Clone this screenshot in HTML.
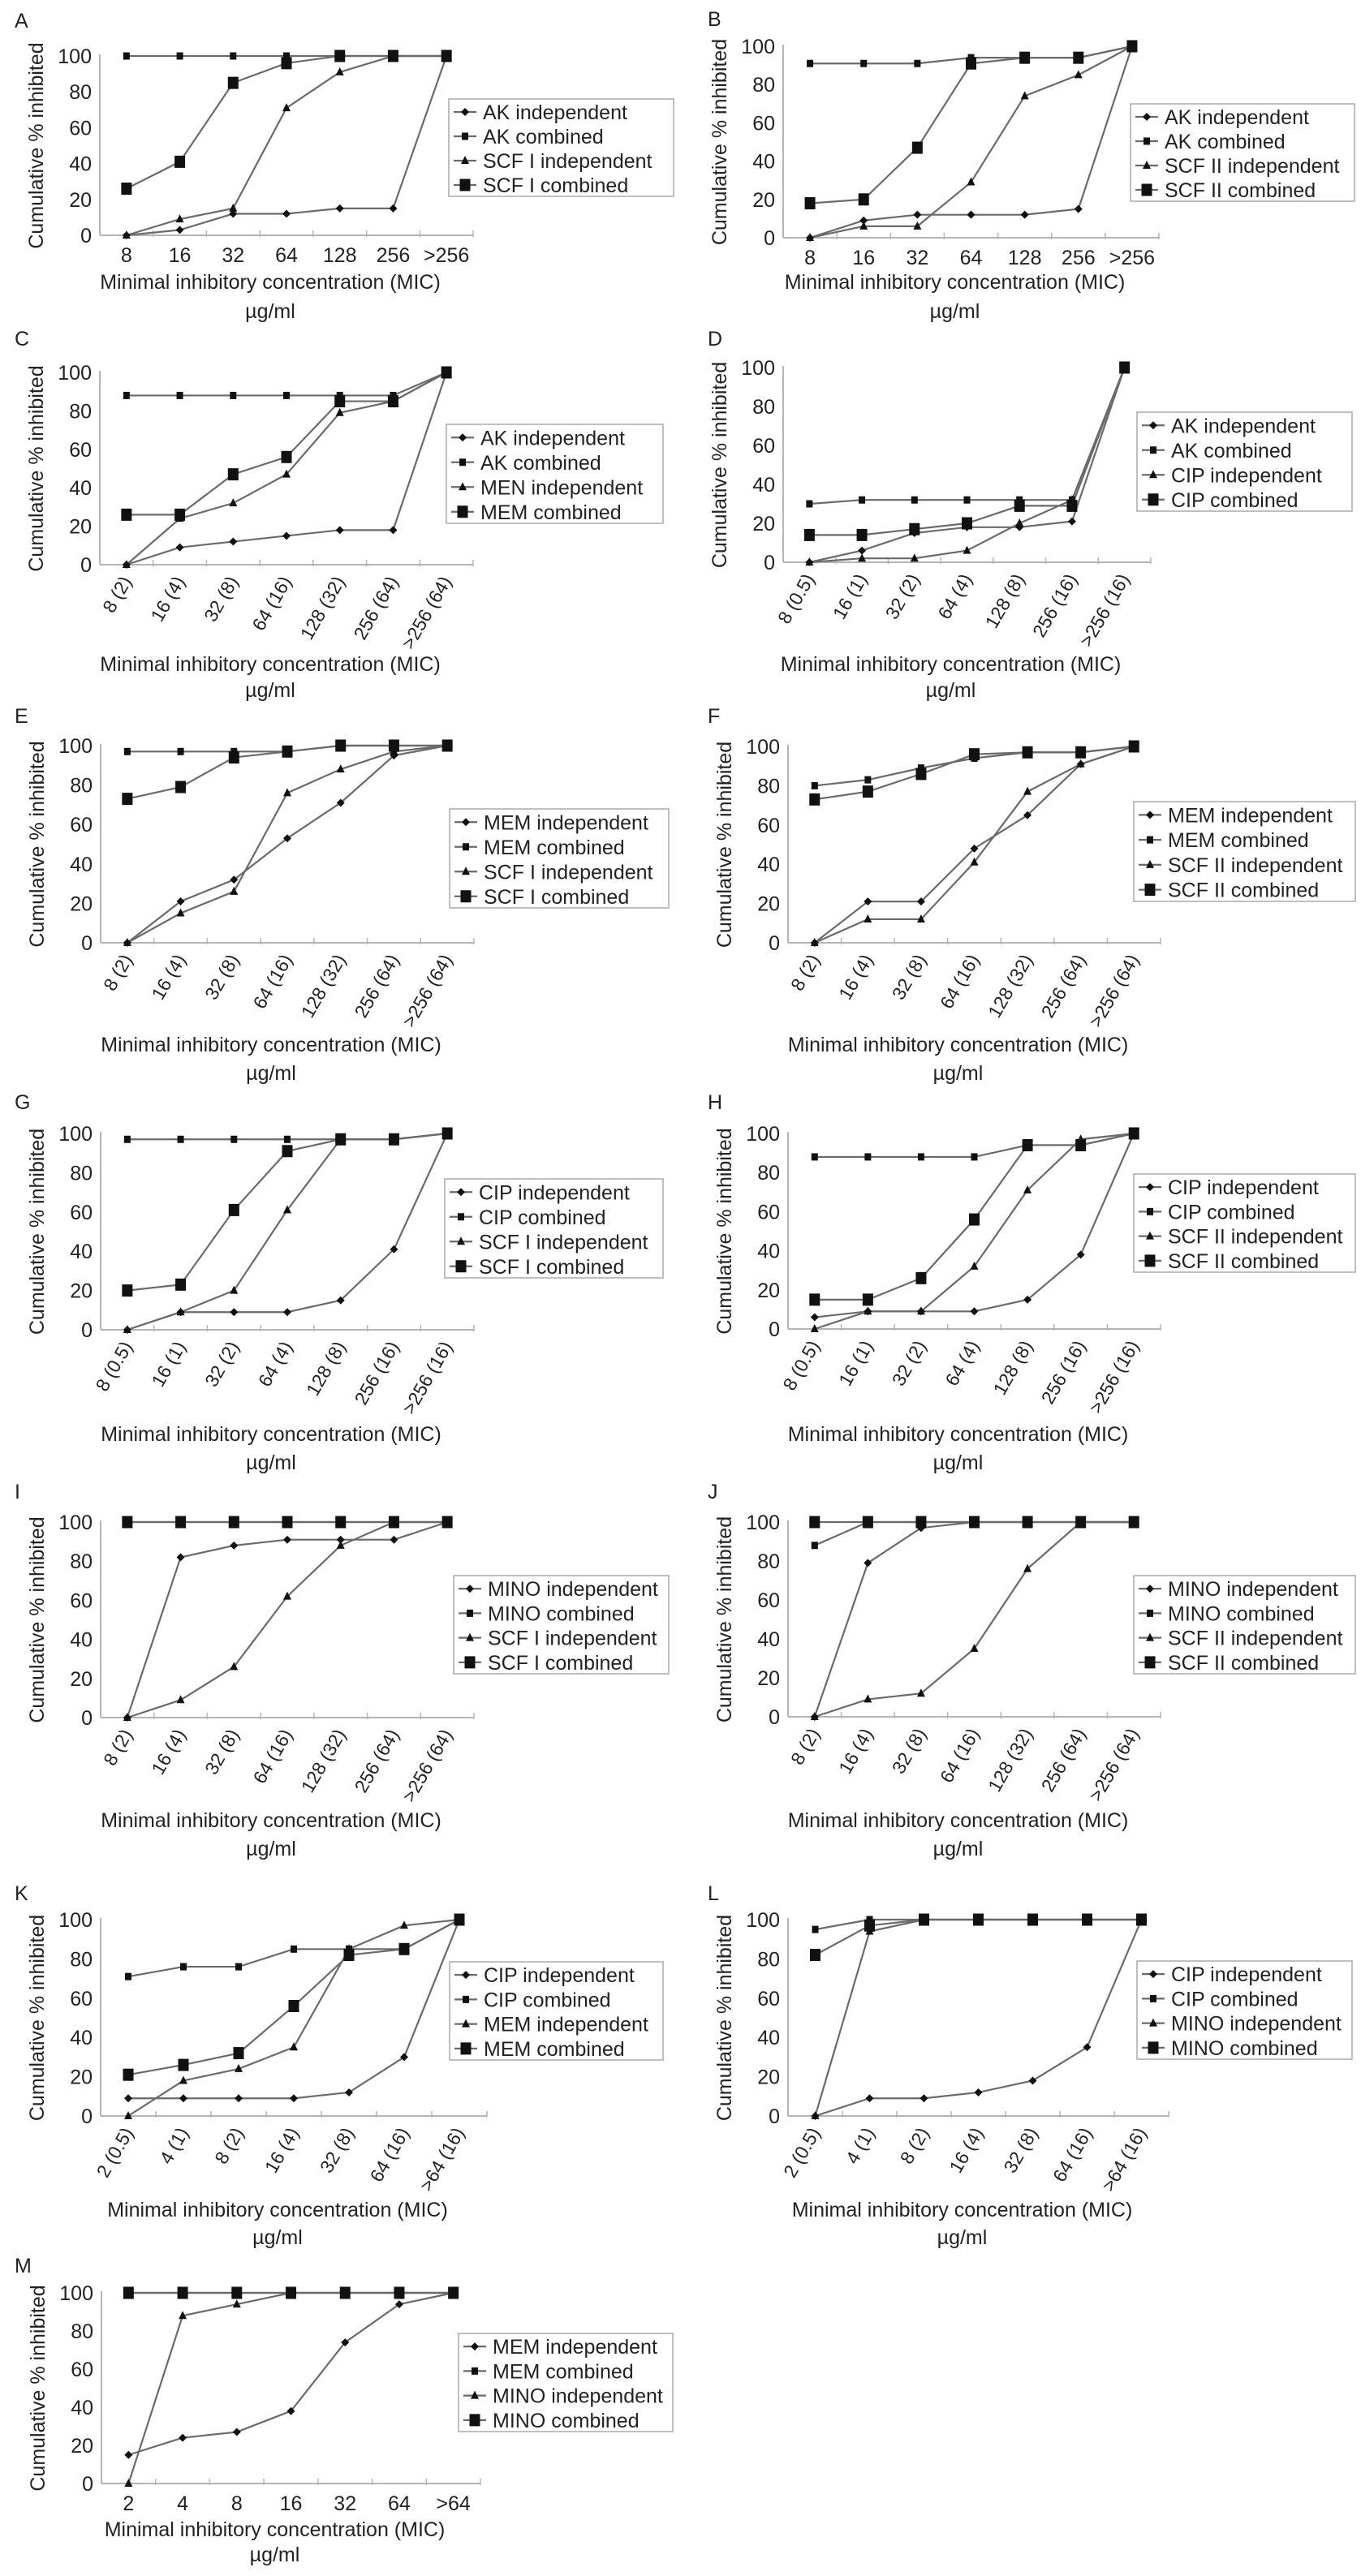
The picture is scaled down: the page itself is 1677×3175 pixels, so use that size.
<!DOCTYPE html>
<html><head><meta charset="utf-8">
<style>
html,body{margin:0;padding:0;background:#fff;}
svg{display:block;font-family:"Liberation Sans",Arial,sans-serif;}
</style></head>
<body>
<svg id="fig" xmlns="http://www.w3.org/2000/svg" width="1677" height="3175" viewBox="0 0 1677 3175"></svg>
<script>
// ---- data ----
const cat1 = ['8','16','32','64','128','256','>256'];
const cat2 = ['8 (2)','16 (4)','32 (8)','64 (16)','128 (32)','256 (64)','>256 (64)'];
const cat3 = ['8 (0.5)','16 (1)','32 (2)','64 (4)','128 (8)','256 (16)','>256 (16)'];
const cat4 = ['2 (0.5)','4 (1)','8 (2)','16 (4)','32 (8)','64 (16)','>64 (16)'];
const cat5 = ['2','4','8','16','32','64','>64'];
const yTicks = [0,20,40,60,80,100];

const legA = ['AK independent','AK combined','SCF I independent','SCF I combined'];
const A1 = [0,3,12,12,15,15,100];
const A2 = [100,100,100,100,100,100,100];
const A3 = [0,9,15,71,91,100,100];
const A4 = [26,41,85,96,100,100,100];

const legB = ['AK independent','AK combined','SCF II independent','SCF II combined'];
const B1 = [0,9,12,12,12,15,100];
const B2 = [91,91,91,94,94,94,100];
const B3 = [0,6,6,29,74,85,100];
const B4 = [18,20,47,91,94,94,100];

const legC = ['AK independent','AK combined','MEN independent','MEM combined'];
const C1 = [0,9,12,15,18,18,100];
const C2 = [88,88,88,88,88,88,100];
const C3 = [0,24,32,47,79,85,100];
const C4 = [26,26,47,56,85,85,100];

const legD = ['AK independent','AK combined','CIP independent','CIP combined'];
const D1 = [0,6,15,18,18,21,100];
const D2 = [30,32,32,32,32,32,100];
const D3 = [0,2,2,6,20,32,100];
const D4 = [14,14,17,20,29,29,100];

const legE = ['MEM independent','MEM combined','SCF I independent','SCF I combined'];
const E1 = [0,21,32,53,71,95,100];
const E2 = [97,97,97,97,100,100,100];
const E3 = [0,15,26,76,88,97,100];
const E4 = [73,79,94,97,100,100,100];

const legF = ['MEM independent','MEM combined','SCF II independent','SCF II combined'];
const F1 = [0,21,21,48,65,91,100];
const F2 = [80,83,89,94,97,97,100];
const F3 = [0,12,12,41,77,91,100];
const F4 = [73,77,86,96,97,97,100];

const legG = ['CIP independent','CIP combined','SCF I independent','SCF I combined'];
const G1 = [0,9,9,9,15,41,100];
const G2 = [97,97,97,97,97,97,100];
const G3 = [0,9,20,61,97,97,100];
const G4 = [20,23,61,91,97,97,100];

const legH = ['CIP independent','CIP combined','SCF II independent','SCF II combined'];
const H1 = [6,9,9,9,15,38,100];
const H2 = [88,88,88,88,94,94,100];
const H3 = [0,9,9,32,71,97,100];
const H4 = [15,15,26,56,94,94,100];

const legI = ['MINO independent','MINO combined','SCF I independent','SCF I combined'];
const I1 = [0,82,88,91,91,91,100];
const I2 = [100,100,100,100,100,100,100];
const I3 = [0,9,26,62,88,100,100];
const I4 = [100,100,100,100,100,100,100];

const legJ = ['MINO independent','MINO combined','SCF II independent','SCF II combined'];
const J1 = [0,79,97,100,100,100,100];
const J2 = [88,100,100,100,100,100,100];
const J3 = [0,9,12,35,76,100,100];
const J4 = [100,100,100,100,100,100,100];

const legK = ['CIP independent','CIP combined','MEM independent','MEM combined'];
const K1 = [9,9,9,9,12,30,100];
const K2 = [71,76,76,85,85,85,100];
const K3 = [0,18,24,35,85,97,100];
const K4 = [21,26,32,56,82,85,100];

const legL = ['CIP independent','CIP combined','MINO independent','MINO combined'];
const L1 = [0,9,9,12,18,35,100];
const L2 = [95,100,100,100,100,100,100];
const L3 = [0,94,100,100,100,100,100];
const L4 = [82,97,100,100,100,100,100];

const legM = ['MEM independent','MEM combined','MINO independent','MINO combined'];
const M1 = [15,24,27,38,74,94,100];
const M2 = [100,100,100,100,100,100,100];
const M3 = [0,88,94,100,100,100,100];
const M4 = [100,100,100,100,100,100,100];

// ---- layout (not data) ----
const panels = [
 {id:'A',cats:cat1,leg:legA,s:[A1,A2,A3,A4],x0:123,x1:583,yt:69,yb:290,rot:false,mic:347,ug:383,lg:[553,122,830,242],ly:25,lx:18},
 {id:'B',cats:cat1,leg:legB,s:[B1,B2,B3,B4],x0:965,x1:1428,yt:57,yb:293,rot:false,mic:347,ug:383,lg:[1393,128,1669,248],ly:23,lx:872},
 {id:'C',cats:cat2,leg:legC,s:[C1,C2,C3,C4],x0:123,x1:583,yt:459,yb:696,rot:true,mic:818,ug:850,lg:[550,523,817,645],ly:417,lx:18},
 {id:'D',cats:cat3,leg:legD,s:[D1,D2,D3,D4],x0:965,x1:1418,yt:453,yb:693,rot:true,mic:818,ug:850,lg:[1401,508,1666,630],ly:417,lx:872},
 {id:'E',cats:cat2,leg:legE,s:[E1,E2,E3,E4],x0:124,x1:584,yt:919,yb:1162,rot:true,mic:1287,ug:1322,lg:[554,997,824,1119],ly:882,lx:18},
 {id:'F',cats:cat2,leg:legF,s:[F1,F2,F3,F4],x0:971,x1:1430,yt:920,yb:1162,rot:true,mic:1287,ug:1322,lg:[1397,988,1670,1111],ly:882,lx:872},
 {id:'G',cats:cat3,leg:legG,s:[G1,G2,G3,G4],x0:124,x1:584,yt:1397,yb:1639,rot:true,mic:1767,ug:1802,lg:[548,1453,817,1575],ly:1358,lx:18},
 {id:'H',cats:cat3,leg:legH,s:[H1,H2,H3,H4],x0:971,x1:1430,yt:1397,yb:1638,rot:true,mic:1767,ug:1802,lg:[1397,1447,1670,1568],ly:1358,lx:872},
 {id:'I',cats:cat2,leg:legI,s:[I1,I2,I3,I4],x0:124,x1:584,yt:1876,yb:2117,rot:true,mic:2243,ug:2278,lg:[559,1942,824,2063],ly:1838,lx:18},
 {id:'J',cats:cat2,leg:legJ,s:[J1,J2,J3,J4],x0:971,x1:1430,yt:1876,yb:2116,rot:true,mic:2243,ug:2278,lg:[1397,1942,1670,2063],ly:1838,lx:872},
 {id:'K',cats:cat4,leg:legK,s:[K1,K2,K3,K4],x0:124,x1:600,yt:2366,yb:2608,rot:true,mic:2723,ug:2757,lg:[554,2418,817,2539],ly:2333,lx:18},
 {id:'L',cats:cat4,leg:legL,s:[L1,L2,L3,L4],x0:971,x1:1440,yt:2366,yb:2608,rot:true,mic:2723,ug:2757,lg:[1401,2417,1666,2538],ly:2333,lx:872},
 {id:'M',cats:cat5,leg:legM,s:[M1,M2,M3,M4],x0:125,x1:592,yt:2826,yb:3061,rot:false,mic:3117,ug:3148,lg:[565,2876,829,2997],ly:2792,lx:18}
];

const NS='http://www.w3.org/2000/svg';
const svg=document.getElementById('fig');
function mk(tag,attrs,parent){const e=document.createElementNS(NS,tag);for(const k in attrs)e.setAttribute(k,attrs[k]);(parent||svg).appendChild(e);return e;}

function marker(g,type,x,y){
  let e;
  if(type===0){const r=5;e=mk('polygon',{points:`${x},${y-r} ${x+r},${y} ${x},${y+r} ${x-r},${y}`,fill:'#111'},g);}
  else if(type===1){e=mk('rect',{x:x-4,y:y-4.5,width:8,height:9,fill:'#111'},g);}
  else if(type===2){e=mk('polygon',{points:`${x},${y-6} ${x+5},${y+4} ${x-5},${y+4}`,fill:'#111'},g);}
  else {e=mk('rect',{x:x-6.5,y:y-7.5,width:13,height:15,fill:'#111'},g);}
  return e;
}

panels.forEach(p=>{
  const g=mk('g',{});
  
  
  const n=p.cats.length;
  const w=(p.x1-p.x0)/n;
  const xs=i=>p.x0+(i+0.5)*w;
  const ys=v=>p.yb-(v/100)*(p.yb-p.yt);

  const lab=mk('text',{x:p.lx,y:p.ly+9,'font-size':25,fill:'#222'},g);
  lab.textContent=p.id;
  
  

  const ya=mk('line',{x1:p.x0,y1:p.yt-2,x2:p.x0,y2:p.yb,stroke:'#b5b5b5','stroke-width':2},g);
  
  
  const xa=mk('line',{x1:p.x0,y1:p.yb,x2:p.x1,y2:p.yb,stroke:'#b5b5b5','stroke-width':2},g);
  
  
  for(let i=1;i<=n;i++){
    const tx=p.x0+i*w;
    const tk=mk('line',{x1:tx,y1:p.yb-6,x2:tx,y2:p.yb+2,stroke:'#b5b5b5','stroke-width':1.5},g);
    
    
  }
  yTicks.forEach(v=>{
    const t=mk('text',{x:p.x0-10,y:ys(v)+9,'font-size':25,'text-anchor':'end',fill:'#222'},g);
    t.textContent=v;
    
    
  });
  p.cats.forEach((c,i)=>{
    let t;
    if(p.rot){
      const cx=xs(i)+7, cy=p.yb+20;
      t=mk('text',{x:cx,y:cy,'font-size':23,'text-anchor':'end',fill:'#222',transform:`rotate(-60 ${cx} ${cy})`},g);
    } else {
      t=mk('text',{x:xs(i),y:p.yb+33,'font-size':25,'text-anchor':'middle',fill:'#222'},g);
    }
    t.textContent=c;
    
    
  });
  const yc=(p.yt+p.yb)/2, ytx=p.x0-70;
  const yt=mk('text',{x:ytx,y:yc,'font-size':25,'text-anchor':'middle',fill:'#222',transform:`rotate(-90 ${ytx} ${yc})`},g);
  yt.textContent='Cumulative % inhibited';
  
  
  const mx=(p.x0+p.x1)/2-20;
  const mt=mk('text',{x:mx,y:p.mic+9,'font-size':25,'text-anchor':'middle',fill:'#222'},g);
  mt.textContent='Minimal inhibitory concentration (MIC)';
  
  
  const ut=mk('text',{x:mx,y:p.ug+9,'font-size':25,'text-anchor':'middle',fill:'#222'},g);
  ut.textContent='µg/ml';
  
  

  p.s.forEach((vals,si)=>{
    const pts=vals.map((v,i)=>xs(i)+','+ys(v)).join(' ');
    const pl=mk('polyline',{points:pts,fill:'none',stroke:'#6a6a6a','stroke-width':2.2},g);
    
    
  });
  p.s.forEach((vals,si)=>{
    vals.forEach((v,i)=>{
      const m=marker(g,si,xs(i),ys(v));
      
      
    });
  });

  const [lx0,ly0,lx1,ly1]=p.lg;
  const lgG=mk('g',{},g);
  
  
  mk('rect',{x:lx0,y:ly0,width:lx1-lx0,height:ly1-ly0,fill:'#fff',stroke:'#aaa','stroke-width':1.5},lgG);
  const step=(ly1-ly0)/4;
  p.leg.forEach((name,i)=>{
    const cy=ly0+step*(i+0.5)+1;
    const e=mk('g',{},lgG);
    
    
    mk('line',{x1:lx0+6,y1:cy,x2:lx0+34,y2:cy,stroke:'#6a6a6a','stroke-width':2.2},e);
    marker(e,i,lx0+20,cy);
    const t=mk('text',{x:lx0+42,y:cy+9,'font-size':25,fill:'#222'},e);
    t.textContent=name;
  });
});
</script>
</body></html>
